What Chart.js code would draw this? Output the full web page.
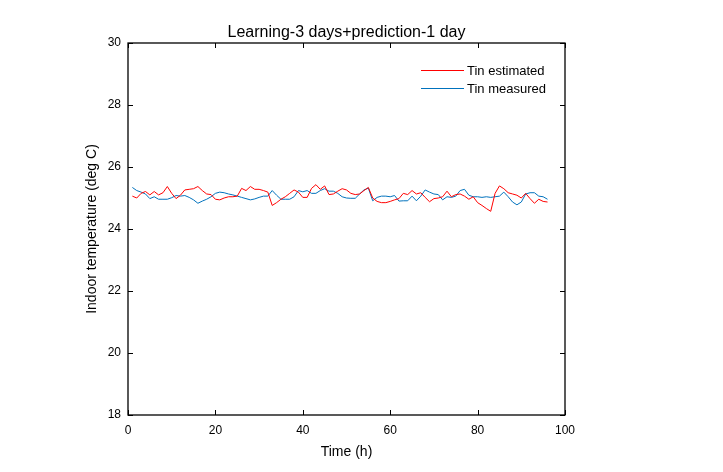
<!DOCTYPE html>
<html>
<head>
<meta charset="utf-8">
<script src="https://cdn.jsdelivr.net/npm/chart.js@4/dist/chart.umd.min.js"></script>
<style>
  html, body { margin: 0; padding: 0; background: #fff; }
  #tempChart { display: block; }
</style>
</head>
<body>
<canvas id="tempChart" width="723" height="472"></canvas>
<script>
// time stamps (h)
const hours = [1,2,3,4,5,6,7,8,9,10,11,12,13,14,15,16,17,18,19,20,21,22,23,24,
  25,26,27,28,29,30,31,32,33,34,35,36,37,38,39,40,41,42,43,44,45,46,47,48,
  49,50,51,52,53,54,55,56,57,58,59,60,61,62,63,64,65,66,67,68,69,70,71,72,
  73,74,75,76,77,78,79,80,81,82,83,84,85,86,87,88,89,90,91,92,93,94,95,96];

// Tin estimated (red)
const tinEstimated = [25.06,25.00,25.15,25.21,25.10,25.21,25.10,25.17,25.37,25.15,24.98,25.09,
  25.26,25.28,25.30,25.37,25.24,25.13,25.11,24.96,24.94,25.00,25.04,25.04,
  25.06,25.31,25.24,25.37,25.28,25.28,25.24,25.19,24.76,24.85,24.96,25.04,
  25.15,25.26,25.19,25.02,25.02,25.31,25.43,25.28,25.39,25.11,25.13,25.22,
  25.30,25.26,25.15,25.11,25.13,25.24,25.34,25.00,24.89,24.85,24.85,24.89,
  24.94,24.98,25.15,25.11,25.24,25.13,25.17,25.02,24.88,24.98,25.00,25.04,
  25.22,25.04,25.11,25.13,25.06,24.96,25.04,24.85,24.76,24.66,24.57,25.15,
  25.39,25.30,25.17,25.13,25.09,25.00,25.15,24.98,24.83,24.96,24.89,24.87];

// Tin measured (blue)
const tinMeasured = [25.34,25.24,25.19,25.13,24.98,25.04,24.96,24.96,24.96,25.01,25.08,25.06,
  25.08,25.02,24.94,24.83,24.90,24.96,25.04,25.15,25.19,25.17,25.13,25.10,
  25.06,25.02,24.98,24.94,24.97,25.02,25.06,25.06,25.24,25.09,24.96,24.96,
  24.96,25.04,25.24,25.20,25.24,25.15,25.15,25.24,25.30,25.22,25.22,25.15,
  25.04,25.00,24.99,24.99,25.13,25.26,25.32,24.91,25.02,25.06,25.06,25.04,
  25.08,24.90,24.91,24.91,25.06,24.91,25.06,25.26,25.19,25.13,25.11,24.94,
  25.04,25.02,25.06,25.24,25.28,25.09,25.04,25.04,25.02,25.04,25.02,25.04,
  25.06,25.19,25.04,24.87,24.78,24.87,25.13,25.17,25.17,25.06,25.04,24.96];

const xTicks = [0, 20, 40, 60, 80, 100];
const yTicks = [18, 20, 22, 24, 26, 28, 30];

const FONT = 'Liberation Sans, Arial, Helvetica, sans-serif';

// box, inward ticks, title and legend (MATLAB look)
const matlabFrame = {
  id: 'matlabFrame',
  afterDraw(chart) {
    const { ctx, chartArea: a, scales: { x, y } } = chart;
    ctx.save();
    ctx.strokeStyle = '#000';
    ctx.lineWidth = 1.3;
    ctx.strokeRect(a.left, a.top, a.right - a.left, a.bottom - a.top);
    ctx.lineWidth = 1;
    const tl = 5;
    ctx.beginPath();
    xTicks.forEach(v => {
      const px = Math.round(x.getPixelForValue(v)) + 0.5;
      ctx.moveTo(px, a.bottom); ctx.lineTo(px, a.bottom - tl);
      ctx.moveTo(px, a.top); ctx.lineTo(px, a.top + tl);
    });
    yTicks.forEach(v => {
      const py = Math.round(y.getPixelForValue(v)) + 0.5;
      ctx.moveTo(a.left, py); ctx.lineTo(a.left + tl, py);
      ctx.moveTo(a.right, py); ctx.lineTo(a.right - tl, py);
    });
    ctx.stroke();

    // title
    ctx.fillStyle = '#000';
    ctx.font = '16px ' + FONT;
    ctx.textAlign = 'center';
    ctx.textBaseline = 'middle';
    ctx.fillText('Learning-3 days+prediction-1 day', (a.left + a.right) / 2, 33);

    // legend
    ctx.font = '13px ' + FONT;
    ctx.textAlign = 'left';
    chart.data.datasets.forEach((ds, i) => {
      const ly = 70 + i * 18;
      ctx.strokeStyle = ds.borderColor;
      ctx.lineWidth = 1;
      ctx.beginPath();
      ctx.moveTo(421, ly + 0.5); ctx.lineTo(464, ly + 0.5);
      ctx.stroke();
      ctx.fillText(ds.label, 467, ly + 1);
    });
    ctx.restore();
  }
};

new Chart(document.getElementById('tempChart'), {
  type: 'line',
  data: {
    datasets: [
      {
        label: 'Tin estimated',
        data: hours.map((h, i) => ({ x: h, y: tinEstimated[i] })),
        borderColor: '#ff0000',
        borderWidth: 1,
        pointRadius: 0,
        tension: 0,
        fill: false
      },
      {
        label: 'Tin measured',
        data: hours.map((h, i) => ({ x: h, y: tinMeasured[i] })),
        borderColor: '#0072bd',
        borderWidth: 1,
        pointRadius: 0,
        tension: 0,
        fill: false
      }
    ]
  },
  options: {
    responsive: false,
    animation: false,
    layout: { padding: { top: 43, right: 158, left: 0, bottom: 0 } },
    plugins: {
      legend: { display: false },
      title: { display: false },
      tooltip: { enabled: false }
    },
    scales: {
      x: {
        type: 'linear',
        min: 0,
        max: 100,
        afterFit: s => { s.height = 57; },
        afterBuildTicks: s => { s.ticks = xTicks.map(v => ({ value: v })); },
        grid: { display: false, drawTicks: false },
        border: { display: false },
        ticks: { color: '#000', padding: 8, maxRotation: 0, font: { size: 12, family: FONT } },
        title: { display: true, text: 'Time (h)', color: '#000', padding: { top: 0, bottom: 11 }, font: { size: 14, family: FONT } }
      },
      y: {
        min: 18,
        max: 30,
        afterFit: s => { s.width = 128; },
        afterBuildTicks: s => { s.ticks = yTicks.map(v => ({ value: v })); },
        grid: { display: false, drawTicks: false },
        border: { display: false },
        ticks: { color: '#000', padding: 7, font: { size: 12, family: FONT } },
        title: { display: true, text: 'Indoor temperature (deg C)', color: '#000', padding: { top: 84, bottom: 0 }, font: { size: 14, family: FONT } }
      }
    }
  },
  plugins: [matlabFrame]
});
</script>
</body>
</html>
